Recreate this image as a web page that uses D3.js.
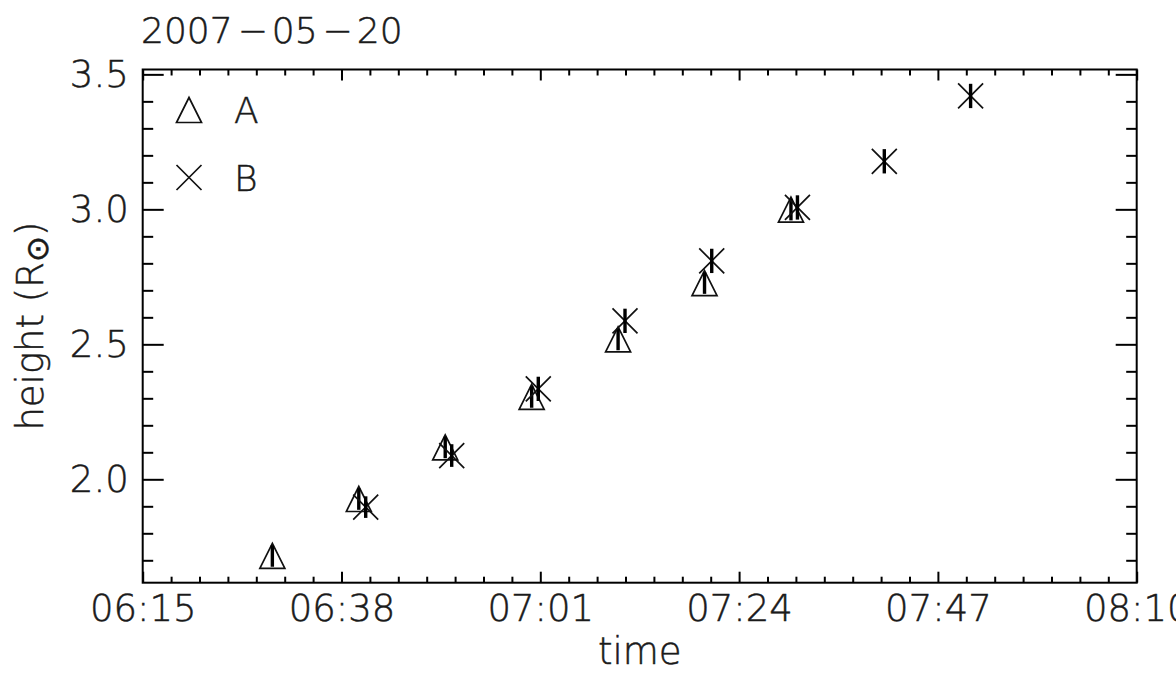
<!DOCTYPE html>
<html>
<head>
<meta charset="utf-8">
<script src="https://cdn.jsdelivr.net/npm/d3@7"></script>
<style>
  html, body { margin: 0; padding: 0; background: #fff; }
  svg { display: block; font-family: "DejaVu Sans", sans-serif; font-weight: 300; }
  svg text { stroke: #1a1a1a; stroke-width: 0.5px; }
</style>
</head>
<body>
<svg id="chart" width="1176" height="695"></svg>
<script>
// ---- data ----
const titleText = "2007-05-20";
const seriesNames = ["A", "B"];
const timesA = ["06:30:00", "06:40:00", "06:50:00", "07:00:00", "07:10:00", "07:20:00", "07:30:00"];
const heightsA = [1.716, 1.927, 2.118, 2.305, 2.518, 2.727, 2.999];
const errA = [0.040, 0.040, 0.040, 0.040, 0.040, 0.040, 0.040];
const timesB = ["06:40:48", "06:50:45", "07:00:46", "07:10:48", "07:20:50", "07:30:45", "07:40:48", "07:50:47"];
const heightsB = [1.897, 2.088, 2.335, 2.587, 2.809, 3.007, 3.178, 3.420];
const errB = [0.040, 0.042, 0.045, 0.045, 0.045, 0.045, 0.045, 0.045];
const xTickLabels = ["06:15", "06:38", "07:01", "07:24", "07:47", "08:10"];
const yTickValues = [2.0, 2.5, 3.0, 3.5];
const xDomain = ["06:15", "08:10"];
const yDomain = [1.617, 3.518];

// ---- layout ----
const M = { left: 142.7, right: 1136.7, top: 69.5, bottom: 582.7 };
const svg = d3.select("#chart");
const parseHMS = d3.timeParse("%H:%M:%S");
const parseHM = d3.timeParse("%H:%M");
const fmtHM = d3.timeFormat("%H:%M");

const x = d3.scaleTime().domain(xDomain.map(parseHM)).range([M.left, M.right]);
const y = d3.scaleLinear().domain(yDomain).range([M.bottom, M.top]);

const majorX = xTickLabels.map(parseHM);
const minorX = [];
for (let i = 0; i < majorX.length - 1; i++) {
  const a = +majorX[i], b = +majorX[i + 1];
  for (let k = 1; k < 7; k++) minorX.push(new Date(a + (b - a) * k / 7));
}
const minorY = d3.range(17, 36).map(d => d / 10).filter(v => !yTickValues.some(t => Math.abs(t - v) < 1e-6));

const axisColor = "#000";
const textColor = "#1a1a1a";
function styleAxis(g) {
  g.select(".domain").remove();
  g.selectAll(".tick line").attr("stroke", axisColor).attr("stroke-width", 2);
  g.selectAll(".tick text").attr("fill", textColor).style("font-size", "37px").style("font-family", "DejaVu Sans");
}

// bottom
svg.append("g").attr("transform", `translate(0,${M.bottom})`)
  .call(d3.axisBottom(x).tickValues(minorX).tickSize(-6).tickSizeOuter(0).tickFormat(""))
  .call(styleAxis);
svg.append("g").attr("transform", `translate(0,${M.bottom})`)
  .call(d3.axisBottom(x).tickValues(majorX).tickSize(-11).tickSizeOuter(0).tickPadding(12).tickFormat(fmtHM))
  .call(styleAxis);
// top
svg.append("g").attr("transform", `translate(0,${M.top})`)
  .call(d3.axisTop(x).tickValues(minorX).tickSize(-6).tickSizeOuter(0).tickFormat(""))
  .call(styleAxis);
svg.append("g").attr("transform", `translate(0,${M.top})`)
  .call(d3.axisTop(x).tickValues(majorX).tickSize(-11).tickSizeOuter(0).tickFormat(""))
  .call(styleAxis);
// left
svg.append("g").attr("transform", `translate(${M.left},0)`)
  .call(d3.axisLeft(y).tickValues(minorY).tickSize(-10.5).tickSizeOuter(0).tickFormat(""))
  .call(styleAxis);
svg.append("g").attr("transform", `translate(${M.left},0)`)
  .call(d3.axisLeft(y).tickValues(yTickValues).tickSize(-21).tickSizeOuter(0).tickPadding(14).tickFormat(d3.format(".1f")))
  .call(styleAxis);
// right
svg.append("g").attr("transform", `translate(${M.right},0)`)
  .call(d3.axisRight(y).tickValues(minorY).tickSize(-10.5).tickSizeOuter(0).tickFormat(""))
  .call(styleAxis);
svg.append("g").attr("transform", `translate(${M.right},0)`)
  .call(d3.axisRight(y).tickValues(yTickValues).tickSize(-21).tickSizeOuter(0).tickFormat(""))
  .call(styleAxis);

// frame
svg.append("rect")
  .attr("x", M.left).attr("y", M.top)
  .attr("width", M.right - M.left).attr("height", M.bottom - M.top)
  .attr("fill", "none").attr("stroke", axisColor).attr("stroke-width", 2);

// ---- markers ----
const S = 12.5;
function triPath(cx, cy) {
  return `M${cx - S},${cy + S}L${cx},${cy - S}L${cx + S},${cy + S}Z`;
}
function xPath(cx, cy) {
  return `M${cx - S},${cy - S}L${cx + S},${cy + S}M${cx - S},${cy + S}L${cx + S},${cy - S}`;
}

const dataA = timesA.map((t, i) => ({ t: parseHMS(t), v: heightsA[i], e: errA[i] }));
const dataB = timesB.map((t, i) => ({ t: parseHMS(t), v: heightsB[i], e: errB[i] }));

const plot = svg.append("g");
function drawSeries(data, pathFn) {
  const g = plot.append("g");
  g.selectAll("path.m").data(data).enter().append("path")
    .attr("class", "m")
    .attr("d", d => pathFn(x(d.t), y(d.v)))
    .attr("fill", "none").attr("stroke", "#111").attr("stroke-width", 1.7);
  g.selectAll("line.err").data(data).enter().append("line")
    .attr("class", "err")
    .attr("x1", d => x(d.t)).attr("x2", d => x(d.t))
    .attr("y1", d => y(d.v - d.e)).attr("y2", d => y(d.v + d.e))
    .attr("stroke", "#000").attr("stroke-width", 3.4);
}
drawSeries(dataA, triPath);
drawSeries(dataB, xPath);

// ---- legend ----
const leg = svg.append("g");
leg.append("path").attr("d", triPath(189, 110)).attr("fill", "none").attr("stroke", "#111").attr("stroke-width", 1.7);
leg.append("text").attr("x", 234).attr("y", 123).style("font-size", "36px").attr("fill", textColor).text(seriesNames[0]);
leg.append("path").attr("d", xPath(189, 177.5)).attr("fill", "none").attr("stroke", "#111").attr("stroke-width", 1.7);
leg.append("text").attr("x", 234).attr("y", 191).style("font-size", "36px").attr("fill", textColor).text(seriesNames[1]);

// ---- title ----
const parts = titleText.split("-");
const title = svg.append("text").attr("x", 141).attr("y", 43).style("font-size", "36px").attr("fill", textColor);
parts.forEach((p, i) => {
  if (i > 0) title.append("tspan").attr("dx", 5).text("\u2212");
  title.append("tspan").attr("dx", i > 0 ? 4 : 0).text(p);
});

// ---- axis titles ----
svg.append("text")
  .attr("x", (M.left + M.right) / 2).attr("y", 664)
  .attr("text-anchor", "middle").style("font-size", "37px").attr("fill", textColor)
  .text("time");

const yl = svg.append("text")
  .attr("transform", `translate(43,${(M.top + M.bottom) / 2}) rotate(-90)`)
  .attr("text-anchor", "middle").style("font-size", "37px").attr("fill", textColor);
yl.append("tspan").text("height (R");
yl.append("tspan").attr("dy", 5).style("font-size", "31px").text("\u2299");
yl.append("tspan").attr("dy", -5).text(")");
</script>
</body>
</html>
